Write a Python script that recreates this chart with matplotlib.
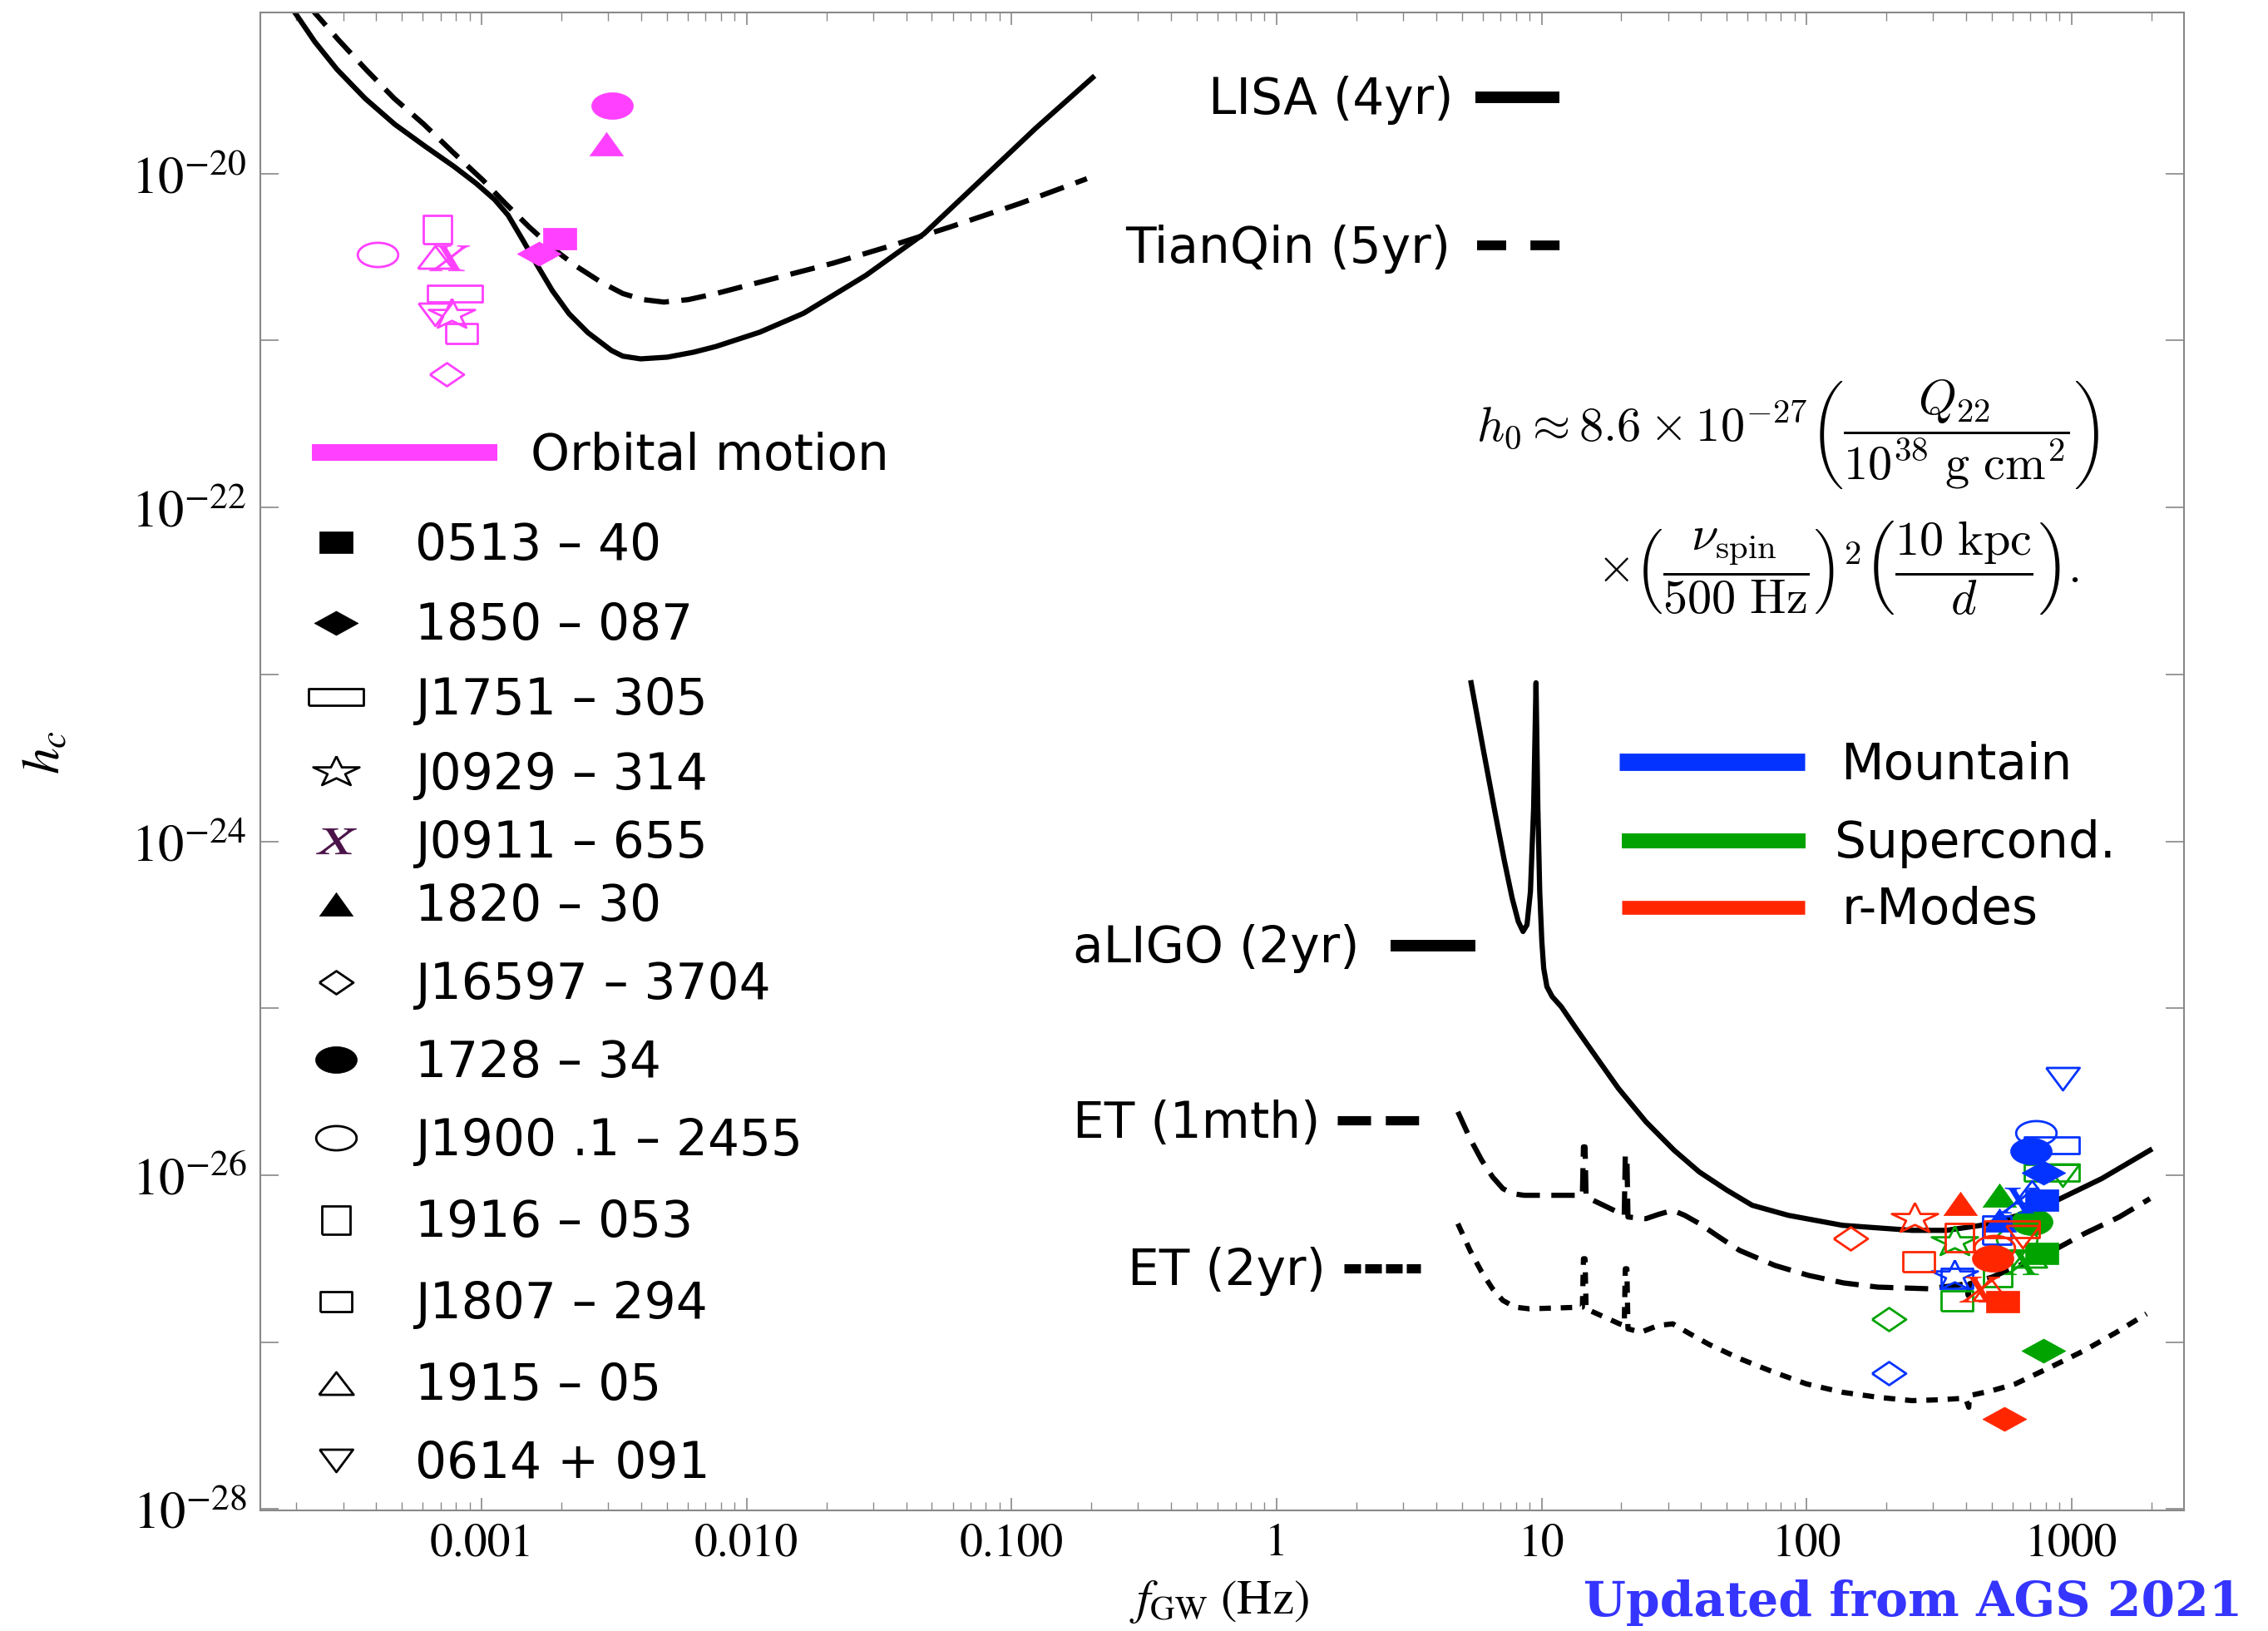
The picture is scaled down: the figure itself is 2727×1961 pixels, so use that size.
import numpy as np
import matplotlib
matplotlib.use("Agg")
import matplotlib.pyplot as plt
from matplotlib.lines import Line2D
from matplotlib.legend import Legend
from matplotlib.markers import MarkerStyle
from matplotlib.transforms import Affine2D
from matplotlib.ticker import NullLocator

plt.rcParams["font.family"] = ["DejaVu Sans"]
plt.rcParams["mathtext.fontset"] = "stix"

# sensitivity curves: log10 f_GW [Hz] and log10 h_c
lisa_logf = [-3.72, -3.63, -3.546, -3.44, -3.328, -3.215, -3.105, -3.02, -2.951, -2.90,
             -2.842, -2.79, -2.733, -2.67, -2.599, -2.51, -2.467, -2.40, -2.30, -2.20,
             -2.116, -1.95, -1.785, -1.55, -1.33, -1.123, -0.91, -0.694]
lisa_logh = [-19.00, -19.21, -19.376, -19.55, -19.705, -19.835, -19.957, -20.06, -20.156, -20.25,
             -20.406, -20.55, -20.702, -20.84, -20.953, -21.06, -21.094, -21.11, -21.10, -21.07,
             -21.036, -20.95, -20.837, -20.61, -20.36, -20.05, -19.73, -19.425]

tianqin_logf = [-3.65, -3.54, -3.437, -3.33, -3.218, -3.11, -2.995, -2.91, -2.82, -2.73,
                -2.643, -2.55, -2.467, -2.39, -2.312, -2.22, -2.116, -1.90, -1.674, -1.45,
                -1.234, -0.97, -0.716]
tianqin_logh = [-19.00, -19.20, -19.376, -19.55, -19.705, -19.87, -20.04, -20.18, -20.321, -20.45,
                -20.555, -20.65, -20.719, -20.755, -20.77, -20.755, -20.719, -20.63, -20.537, -20.43,
                -20.321, -20.18, -20.031]

aligo_logf = [0.734, 0.78, 0.826, 0.86, 0.889, 0.912, 0.930, 0.945, 0.958, 0.970,
              0.979, 0.986, 0.993, 1.001, 1.008, 1.02, 1.04, 1.074, 1.13, 1.192,
              1.29, 1.394, 1.50, 1.595, 1.70, 1.795, 1.931, 2.136, 2.398, 2.527,
              2.658, 2.80, 2.919, 3.114, 3.296]
aligo_logh = [-23.05, -23.45, -23.84, -24.12, -24.34, -24.48, -24.54, -24.50, -24.30, -23.80,
              -23.05, -23.80, -24.30, -24.60, -24.76, -24.87, -24.93, -24.99, -25.12, -25.26,
              -25.48, -25.68, -25.85, -25.98, -26.09, -26.18, -26.24, -26.30, -26.33, -26.33,
              -26.30, -26.24, -26.17, -26.02, -25.85]

et1_logf = [0.684, 0.73, 0.774, 0.815, 0.854, 0.89, 0.934, 1.05, 1.154, 1.158,
            1.164, 1.168, 1.234, 1.312, 1.316, 1.322, 1.326, 1.394, 1.44, 1.495,
            1.54, 1.596, 1.67, 1.747, 1.88, 2.008, 2.14, 2.268, 2.463, 2.606,
            2.61, 2.615, 2.70, 2.788, 2.92, 3.048, 3.18, 3.296]
et1_logh = [-25.62, -25.78, -25.91, -26.01, -26.08, -26.11, -26.12, -26.12, -26.12, -25.83,
            -25.83, -26.13, -26.18, -26.24, -25.88, -25.88, -26.25, -26.26, -26.235, -26.21,
            -26.24, -26.29, -26.37, -26.45, -26.54, -26.60, -26.645, -26.67, -26.68, -26.65,
            -26.72, -26.65, -26.61, -26.55, -26.46, -26.35, -26.25, -26.14]

et2_logf = [0.684, 0.73, 0.774, 0.815, 0.854, 0.90, 0.954, 1.154, 1.158, 1.164,
            1.168, 1.294, 1.312, 1.316, 1.322, 1.326, 1.375, 1.44, 1.495, 1.56,
            1.634, 1.75, 1.877, 2.00, 2.136, 2.27, 2.398, 2.50, 2.60, 2.612,
            2.615, 2.70, 2.788, 2.92, 3.048, 3.17, 3.283]
et2_logh = [-26.29, -26.45, -26.58, -26.68, -26.75, -26.79, -26.80, -26.79, -26.50, -26.50,
            -26.80, -26.89, -26.90, -26.56, -26.56, -26.92, -26.94, -26.90, -26.89, -26.95,
            -27.015, -27.10, -27.18, -27.25, -27.30, -27.33, -27.35, -27.345, -27.335, -27.39,
            -27.32, -27.29, -27.25, -27.15, -27.05, -26.94, -26.83]

# accreting pulsars
pulsars = ["0513 \u2013 40", "1850 \u2013 087", "J1751 \u2013 305", "J0929 \u2013 314",
           "J0911 \u2013 655", "1820 \u2013 30", "J16597 \u2013 3704", "1728 \u2013 34",
           "J1900 .1 \u2013 2455", "1916 \u2013 053", "J1807 \u2013 294", "1915 \u2013 05",
           "0614 + 091"]

orbital_f = [1.97e-3, 1.64e-3, 7.94e-4, 7.73e-4, 7.53e-4, 2.96e-3, 7.35e-4,
             3.11e-3, 4.06e-4, 6.81e-4, 8.38e-4, 6.67e-4, 6.67e-4]
orbital_h = [4.06e-21, 3.31e-21, 1.90e-21, 1.43e-21, 3.13e-21, 1.50e-20, 6.27e-22,
             2.56e-20, 3.27e-21, 4.61e-21, 1.10e-21, 3.18e-21, 1.43e-21]

mountain_f = [773, 782, 841, 361, 630, 536, 205, 701, 733, 522, 369, 710, 925]
mountain_h = [7.06e-27, 1.04e-26, 1.51e-26, 2.51e-27, 7.06e-27, 5.41e-27, 6.53e-28,
              1.39e-26, 1.80e-26, 4.67e-27, 2.42e-27, 7.91e-27, 3.79e-26]

supercond_f = [773, 782, 841, 361, 659, 535, 205, 710, 621, 526, 369, 693, 925]
supercond_h = [3.39e-27, 8.87e-28, 1.035e-26, 4.00e-27, 3.04e-27, 7.62e-27, 1.38e-27,
               5.24e-27, 4.14e-27, 2.61e-27, 1.78e-27, 3.28e-27, 9.95e-27]

rmode_f = [548, 558, 597, 255, 449, 381, 146, 504, 513, 378, 265, 494, 653]
rmode_h = [1.75e-27, 3.48e-28, 4.72e-27, 5.50e-27, 2.07e-27, 6.79e-27, 4.16e-27,
           3.16e-27, 3.68e-27, 4.21e-27, 3.02e-27, 2.07e-27, 4.30e-27]

xtick_vals = [1e-3, 1e-2, 1e-1, 1, 10, 100, 1000]
xtick_labels = ["0.001", "0.010", "0.100", "1", "10", "100", "1000"]
ytick_vals = [1e-28, 1e-27, 1e-26, 1e-25, 1e-24, 1e-23, 1e-22, 1e-21, 1e-20]
ytick_labels = ["$10^{-28}$", "", "$10^{-26}$", "", "$10^{-24}$", "", "$10^{-22}$", "", "$10^{-20}$"]

MAG, BLUE, GREEN, RED = "#FF40FF", "#0433FF", "#00A300", "#FF2600"


# marker shapes, x spans -1..1 so markersize = width in points
def shape(kind, a):
    if kind == "rect":
        v = [(-1, -a), (1, -a), (1, a), (-1, a), (-1, -a)]
    elif kind == "diamond":
        v = [(-1, 0), (0, a), (1, 0), (0, -a), (-1, 0)]
    elif kind == "up":
        v = [(-1, -a), (1, -a), (0, a), (-1, -a)]
    elif kind == "down":
        v = [(-1, a), (1, a), (0, -a), (-1, a)]
    elif kind == "ellipse":
        t = np.linspace(0, 2 * np.pi, 61)
        v = np.column_stack([np.cos(t), a * np.sin(t)])
    elif kind == "star":
        k = np.arange(11)
        ang = np.pi / 2 + k * np.pi / 5
        r = np.where(k % 2 == 0, 1.0, 0.382)
        v = np.column_stack([r * np.cos(ang) / 0.951, r * np.sin(ang) * a * 2 / 1.809])
    else:
        return MarkerStyle(r"$X$", transform=Affine2D().scale(1.5, 1.0))
    return MarkerStyle(np.asarray(v, dtype=float))


styles = [("rect", 0.65, True, 29), ("diamond", 0.55, True, 38), ("rect", 0.31, False, 48),
          ("star", 0.62, False, 40), ("X", 0, True, 23), ("up", 0.70, True, 29),
          ("diamond", 0.68, False, 29.5), ("ellipse", 0.64, True, 36), ("ellipse", 0.60, False, 35),
          ("rect", 1.0, False, 24), ("rect", 0.62, False, 28), ("up", 0.65, False, 30),
          ("down", 0.67, False, 29)]
markers = [shape(k, a) for k, a, _, _ in styles]


def mkw(i, color):
    filled, size = styles[i][2], styles[i][3]
    if filled:
        return dict(marker=markers[i], ms=size, mfc=color, mec=color, mew=0.5)
    return dict(marker=markers[i], ms=size, mfc="none", mec=color, mew=2.0)


W, H = 2727, 1961
fig = plt.figure(figsize=(W / 100, H / 100), dpi=100)
ax = fig.add_axes([0.1148, 0.0739, 0.8482, 0.9185])
ax.set_xscale("log")
ax.set_yscale("log")


def curve(logf, logh, **kw):
    ax.plot(np.power(10.0, logf), np.power(10.0, logh), color="k", lw=4.5, zorder=2,
            solid_joinstyle="round", dash_capstyle="butt", **kw)


curve(lisa_logf, lisa_logh)
curve(tianqin_logf, tianqin_logh, ls=(0, (4.8, 2.4)))
curve(aligo_logf, aligo_logh)
curve(et1_logf, et1_logh, ls=(0, (4.5, 2.2)))
curve(et2_logf, et2_logh, ls=(0, (2.2, 1.9)))

for fs, hs, col in [(orbital_f, orbital_h, MAG), (supercond_f, supercond_h, GREEN),
                    (mountain_f, mountain_h, BLUE), (rmode_f, rmode_h, RED)]:
    for i in range(len(pulsars)):
        ax.plot(fs[i], hs[i], ls="none", zorder=3, **mkw(i, col))

ax.set_xlim(1.462e-4, 2659)
ax.set_ylim(9.82e-29, 9.23e-20)

ax.set_xticks(xtick_vals)
ax.set_xticklabels(xtick_labels, fontfamily="STIXGeneral", fontsize=40)
ax.set_yticks(ytick_vals)
ax.set_yticklabels(ytick_labels, fontsize=45)
ax.yaxis.set_minor_locator(NullLocator())
ax.tick_params(which="both", direction="in", top=True, right=True, color="#888888")
ax.tick_params(axis="x", which="major", length=11, width=1.2, pad=11)
ax.tick_params(axis="x", which="minor", length=7.5, width=1.0)
ax.tick_params(axis="y", which="major", length=16, width=1.2, pad=12)
for s in ax.spines.values():
    s.set_color("#888888")
    s.set_linewidth(1.5)

ax.set_ylabel("$h_c$", fontsize=46)
ax.yaxis.set_label_coords(-0.099, 0.506)
ax.set_xlabel(r"$f_{\mathrm{GW}}\ (\mathrm{Hz})$", fontsize=42)
ax.xaxis.set_label_coords(0.4985, -0.045)


def key(handle, label, x, y, hl, pad, right=False, fs=43):
    leg = Legend(ax, [handle], [label], loc="center right" if right else "center left",
                 bbox_to_anchor=(x / W, 1 - y / H), bbox_transform=fig.transFigure,
                 frameon=False, borderpad=0, borderaxespad=0, handlelength=hl,
                 handletextpad=pad, fontsize=fs, markerfirst=not right, numpoints=1)
    ax.add_artist(leg)


# detector labels
key(Line2D([], [], color="k", lw=10, solid_capstyle="butt"), "LISA (4yr)", 1875, 121, 1.69, 0.44, True)
key(Line2D([], [], color="k", lw=8.4, ls=(0, (3.0, 2.5)), dash_capstyle="butt"),
    "TianQin (5yr)", 1876, 299, 1.68, 0.52, True)
key(Line2D([], [], color="k", lw=10, solid_capstyle="butt"), "aLIGO (2yr)", 1774, 1141, 1.71, 0.62, True)
key(Line2D([], [], color="k", lw=8, ls=(0, (3.6, 1.6)), dash_capstyle="butt"),
    "ET (1mth)", 1706, 1351, 1.64, 0.34, True)
key(Line2D([], [], color="k", lw=8, ls=(0, (1.8, 0.45)), dash_capstyle="butt"),
    "ET (2yr)", 1708, 1529, 1.54, 0.37, True)

# model colour keys
key(Line2D([], [], color=MAG, lw=14.4, solid_capstyle="butt"), "Orbital motion", 375, 548, 3.73, 0.68)
key(Line2D([], [], color=BLUE, lw=15, solid_capstyle="butt"), "Mountain", 1947, 920, 3.73, 0.73)
key(Line2D([], [], color=GREEN, lw=13, solid_capstyle="butt"), "Supercond.", 1950, 1015, 3.70, 0.58)
key(Line2D([], [], color=RED, lw=12, solid_capstyle="butt"), "r-Modes", 1950, 1095, 3.68, 0.75)

# pulsar marker keys
key_rows = [656, 753, 842, 932, 1015, 1091, 1185, 1278, 1372, 1471, 1569, 1667, 1760]
for i, name in enumerate(pulsars):
    col = "#4a1248" if styles[i][0] == "X" else "k"
    key(Line2D([], [], ls="none", **mkw(i, col)), name, 375, key_rows[i], 0.98, 1.09)

fig.text(2524 / W, 1 - 523 / H,
         r"$h_0 \approx 8.6\times10^{-27}\left(\dfrac{Q_{22}}{10^{38}\ \mathrm{g\ cm}^{2}}\right)$",
         ha="right", va="center", fontsize=42, math_fontfamily="cm")
fig.text(2500 / W, 1 - 684 / H,
         r"$\times{\left(\dfrac{\nu_{\mathrm{spin}}}{500\ \mathrm{Hz}}\right)}^{2}\left(\dfrac{10\ \mathrm{kpc}}{d}\right).$",
         ha="right", va="center", fontsize=42, math_fontfamily="cm")

fig.text(1904 / W, 0.003, "Updated from AGS 2021", color="#3535FF", fontsize=42,
         fontweight="bold", family="DejaVu Serif", ha="left", va="bottom")

fig.savefig("out.png", dpi=100)
